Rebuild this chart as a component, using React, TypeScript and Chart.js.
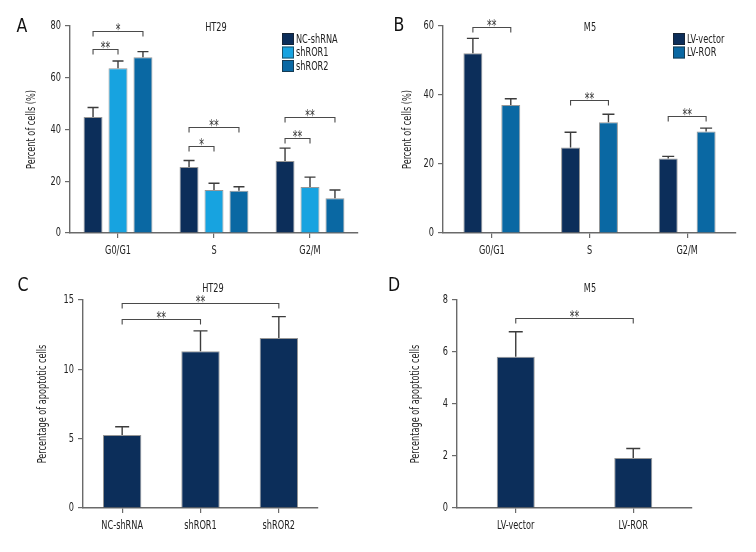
import React, { useEffect, useRef } from 'react';
import { Chart, registerables } from 'chart.js';

Chart.register(...registerables);

const FONT = '"DejaVu Sans Condensed", "DejaVu Sans", sans-serif';
const SX = 0.7; // horizontal text compression to mimic a condensed face

// ---- data ----
const cycleCategories = ['G0/G1', 'S', 'G2/M'];
const ht29Groups = ['NC-shRNA', 'shROR1', 'shROR2'];
const ht29NcCycle = [44.8, 25.5, 27.8];
const ht29NcCycleErr = [3.7, 2.5, 5.0];
const ht29Ror1Cycle = [63.7, 16.6, 17.8];
const ht29Ror1CycleErr = [2.8, 2.6, 3.8];
const ht29Ror2Cycle = [67.9, 16.3, 13.4];
const ht29Ror2CycleErr = [2.2, 1.6, 3.2];

const m5Groups = ['LV-vector', 'LV-ROR'];
const m5VectorCycle = [52.1, 24.8, 21.6];
const m5VectorCycleErr = [4.3, 4.4, 0.6];
const m5RorCycle = [37.1, 32.1, 29.4];
const m5RorCycleErr = [1.8, 2.3, 1.0];

const ht29Apoptosis = [5.26, 11.3, 12.26];
const ht29ApoptosisErr = [0.6, 1.47, 1.54];
const m5Apoptosis = [5.82, 1.92];
const m5ApoptosisErr = [0.96, 0.37];

// significance brackets: [dataset, category] -> [dataset, category]
type Bracket = { from: [number, number]; to: [number, number]; value: number; label: string };
const ht29CycleBrackets: Bracket[] = [
  { from: [0, 0], to: [1, 0], value: 71.0, label: '**' },
  { from: [0, 0], to: [2, 0], value: 78.0, label: '*' },
  { from: [0, 1], to: [1, 1], value: 33.8, label: '*' },
  { from: [0, 1], to: [2, 1], value: 40.9, label: '**' },
  { from: [0, 2], to: [1, 2], value: 36.9, label: '**' },
  { from: [0, 2], to: [2, 2], value: 44.8, label: '**' },
];
const m5CycleBrackets: Bracket[] = [
  { from: [0, 0], to: [1, 0], value: 59.6, label: '**' },
  { from: [0, 1], to: [1, 1], value: 38.6, label: '**' },
  { from: [0, 2], to: [1, 2], value: 33.8, label: '**' },
];
const ht29ApoptosisBrackets: Bracket[] = [
  { from: [0, 0], to: [0, 1], value: 13.63, label: '**' },
  { from: [0, 0], to: [0, 2], value: 14.76, label: '**' },
];
const m5ApoptosisBrackets: Bracket[] = [
  { from: [0, 0], to: [0, 1], value: 7.32, label: '**' },
];

const NAVY = '#0c2e5a';
const LIGHT = '#17a3e0';
const MID = '#0a68a3';
const AXIS = '#6a6a6a';
const INK = '#222222';

type DS = { label: string; data: number[]; errors: number[]; color: string };
type Panel = {
  x: number; y: number; w: number; h: number;
  labels: string[];
  datasets: DS[];
  yMax: number; yStep: number; yTitle: string; yTitlePad: number;
  area: { left: number; right: number; top: number; bottom: number };
  title: string; titlePos: [number, number];
  letter: string; letterPos: [number, number];
  legend: [number, number] | null;
  brackets: Bracket[];
  catPct: number; barPct: number; cap: number;
};

const panels: Panel[] = [
  {
    x: 0, y: 0, w: 378, h: 276,
    labels: cycleCategories,
    datasets: [
      { label: ht29Groups[0], data: ht29NcCycle, errors: ht29NcCycleErr, color: NAVY },
      { label: ht29Groups[1], data: ht29Ror1Cycle, errors: ht29Ror1CycleErr, color: LIGHT },
      { label: ht29Groups[2], data: ht29Ror2Cycle, errors: ht29Ror2CycleErr, color: MID },
    ],
    yMax: 80, yStep: 20, yTitle: 'Percent of cells (%)', yTitlePad: 24,
    area: { left: 70, right: 358, top: 26, bottom: 233 },
    title: 'HT29', titlePos: [216, 28],
    letter: 'A', letterPos: [22, 27],
    legend: [282, 39],
    brackets: ht29CycleBrackets,
    catPct: 0.78, barPct: 0.76, cap: 11,
  },
  {
    x: 378, y: 0, w: 378, h: 276,
    labels: cycleCategories,
    datasets: [
      { label: m5Groups[0], data: m5VectorCycle, errors: m5VectorCycleErr, color: NAVY },
      { label: m5Groups[1], data: m5RorCycle, errors: m5RorCycleErr, color: MID },
    ],
    yMax: 60, yStep: 20, yTitle: 'Percent of cells (%)', yTitlePad: 22,
    area: { left: 65, right: 358, top: 26, bottom: 233 },
    title: 'M5', titlePos: [212, 28],
    letter: 'B', letterPos: [21, 26],
    legend: [295, 39],
    brackets: m5CycleBrackets,
    catPct: 0.776, barPct: 0.5, cap: 12,
  },
  {
    x: 0, y: 276, w: 378, h: 276,
    labels: ht29Groups,
    datasets: [
      { label: 'HT29', data: ht29Apoptosis, errors: ht29ApoptosisErr, color: NAVY },
    ],
    yMax: 15, yStep: 5, yTitle: 'Percentage of apoptotic cells', yTitlePad: 35,
    area: { left: 83, right: 318, top: 24, bottom: 232 },
    title: 'HT29', titlePos: [213, 13],
    letter: 'C', letterPos: [23, 10],
    legend: null,
    brackets: ht29ApoptosisBrackets,
    catPct: 0.98, barPct: 0.5, cap: 14,
  },
  {
    x: 378, y: 276, w: 378, h: 276,
    labels: m5Groups,
    datasets: [
      { label: 'M5', data: m5Apoptosis, errors: m5ApoptosisErr, color: NAVY },
    ],
    yMax: 8, yStep: 2, yTitle: 'Percentage of apoptotic cells', yTitlePad: 30,
    area: { left: 79, right: 314, top: 24, bottom: 232 },
    title: 'M5', titlePos: [212, 13],
    letter: 'D', letterPos: [16, 10],
    legend: null,
    brackets: m5ApoptosisBrackets,
    catPct: 0.98, barPct: 0.33, cap: 14,
  },
];

function condense(ctx: any) {
  const orig = ctx.fillText;
  ctx.fillText = function (text: string, x: number, y: number, maxWidth?: number) {
    this.save();
    this.translate(x, y);
    this.scale(SX, 1);
    if (maxWidth === undefined || maxWidth === null) orig.call(this, text, 0, 0);
    else orig.call(this, text, 0, 0, maxWidth / SX);
    this.restore();
  };
}

function makeOverlay(p: Panel) {
  return {
    id: 'overlay' + p.letter,
    afterDatasetsDraw(chart: any) {
      const ctx: CanvasRenderingContext2D = chart.ctx;
      const ys = chart.scales.y;
      ctx.save();
      // error bars (upper only)
      p.datasets.forEach((ds, di) => {
        const meta = chart.getDatasetMeta(di);
        meta.data.forEach((bar: any, i: number) => {
          const yTop = ys.getPixelForValue(ds.data[i] + ds.errors[i]);
          const yBase = ys.getPixelForValue(ds.data[i]);
          ctx.strokeStyle = '#3c3c3c';
          ctx.lineWidth = 1.4;
          ctx.beginPath();
          ctx.moveTo(bar.x, yBase);
          ctx.lineTo(bar.x, yTop);
          ctx.moveTo(bar.x - p.cap / 2, yTop);
          ctx.lineTo(bar.x + p.cap / 2, yTop);
          ctx.stroke();
        });
      });
      // brackets
      p.brackets.forEach((b) => {
        const x1 = chart.getDatasetMeta(b.from[0]).data[b.from[1]].x;
        const x2 = chart.getDatasetMeta(b.to[0]).data[b.to[1]].x;
        const yy = Math.round(ys.getPixelForValue(b.value)) + 0.5;
        ctx.strokeStyle = '#4a4a4a';
        ctx.lineWidth = 1.1;
        ctx.beginPath();
        ctx.moveTo(x1, yy + 5);
        ctx.lineTo(x1, yy);
        ctx.lineTo(x2, yy);
        ctx.lineTo(x2, yy + 5);
        ctx.stroke();
        ctx.fillStyle = '#333';
        ctx.font = `15px ${FONT}`;
        ctx.textAlign = 'center';
        ctx.textBaseline = 'alphabetic';
        ctx.fillText(b.label, (x1 + x2) / 2, yy + 3);
      });
      // title
      ctx.fillStyle = INK;
      ctx.font = `13px ${FONT}`;
      ctx.textAlign = 'center';
      ctx.textBaseline = 'middle';
      ctx.fillText(p.title, p.titlePos[0], p.titlePos[1]);
      // panel letter (slightly less condensed)
      ctx.save();
      ctx.font = `20px ${FONT}`;
      ctx.fillStyle = '#111';
      ctx.translate(p.letterPos[0], p.letterPos[1]);
      ctx.scale(1.25, 1);
      ctx.fillText(p.letter, 0, 0);
      ctx.restore();
      // legend
      if (p.legend) {
        const [lx, ly] = p.legend;
        ctx.font = `13px ${FONT}`;
        ctx.textAlign = 'left';
        ctx.textBaseline = 'middle';
        p.datasets.forEach((ds, i) => {
          const cy = ly + i * 13.5;
          ctx.fillStyle = ds.color;
          ctx.fillRect(lx, cy - 6, 12, 12);
          ctx.strokeStyle = 'rgba(30,30,30,0.6)';
          ctx.lineWidth = 1;
          ctx.strokeRect(lx + 0.5, cy - 5.5, 11, 11);
          ctx.fillStyle = INK;
          ctx.fillText(ds.label, lx + 14, cy + 0.5);
        });
      }
      ctx.restore();
    },
  };
}

function PanelChart({ p }: { p: Panel }) {
  const ref = useRef<HTMLCanvasElement | null>(null);
  useEffect(() => {
    if (!ref.current) return;
    const ctx = ref.current.getContext('2d');
    if (!ctx) return;
    condense(ctx);
    const chart = new Chart(ctx, {
      type: 'bar',
      data: {
        labels: p.labels,
        datasets: p.datasets.map((d) => ({
          label: d.label,
          data: d.data,
          backgroundColor: d.color,
          borderColor: 'rgba(25,25,25,0.45)',
          borderWidth: 1,
          categoryPercentage: p.catPct,
          barPercentage: p.barPct,
        })),
      },
      options: {
        responsive: false,
        animation: false,
        maintainAspectRatio: false,
        layout: {
          padding: { left: 0, top: p.area.top, right: p.w - p.area.right, bottom: 0 },
        },
        plugins: {
          legend: { display: false },
          tooltip: { enabled: false },
          title: { display: false },
        },
        scales: {
          x: {
            offset: true,
            grid: { offset: false, drawOnChartArea: false, tickLength: 5, color: AXIS, lineWidth: 1.2 },
            border: { color: AXIS, width: 1.4 },
            ticks: { color: INK, font: { family: FONT, size: 13 }, padding: 5, maxRotation: 0, autoSkip: false },
            afterFit: (s: any) => { s.height = p.h - p.area.bottom; },
          },
          y: {
            min: 0,
            max: p.yMax,
            grid: { drawOnChartArea: false, tickLength: 5, color: AXIS, lineWidth: 1.2 },
            border: { color: AXIS, width: 1.4 },
            ticks: { stepSize: p.yStep, color: INK, font: { family: FONT, size: 13 }, padding: 4 },
            title: {
              display: true,
              text: p.yTitle,
              color: INK,
              font: { family: FONT, size: 13 },
              padding: { top: p.yTitlePad, bottom: 0 },
            },
            afterFit: (s: any) => { s.width = p.area.left; },
          },
        },
      },
      plugins: [makeOverlay(p)],
    } as any);
    return () => chart.destroy();
  }, [p]);
  return (
    <div style={{ position: 'absolute', left: p.x, top: p.y, width: p.w, height: p.h }}>
      <canvas ref={ref} width={p.w} height={p.h} style={{ width: p.w, height: p.h, display: 'block' }} />
    </div>
  );
}

export default function App() {
  return (
    <div style={{ position: 'absolute', left: 0, top: 0, width: 756, height: 552, background: '#fff', overflow: 'hidden' }}>
      {panels.map((p) => (
        <PanelChart key={p.letter} p={p} />
      ))}
    </div>
  );
}
